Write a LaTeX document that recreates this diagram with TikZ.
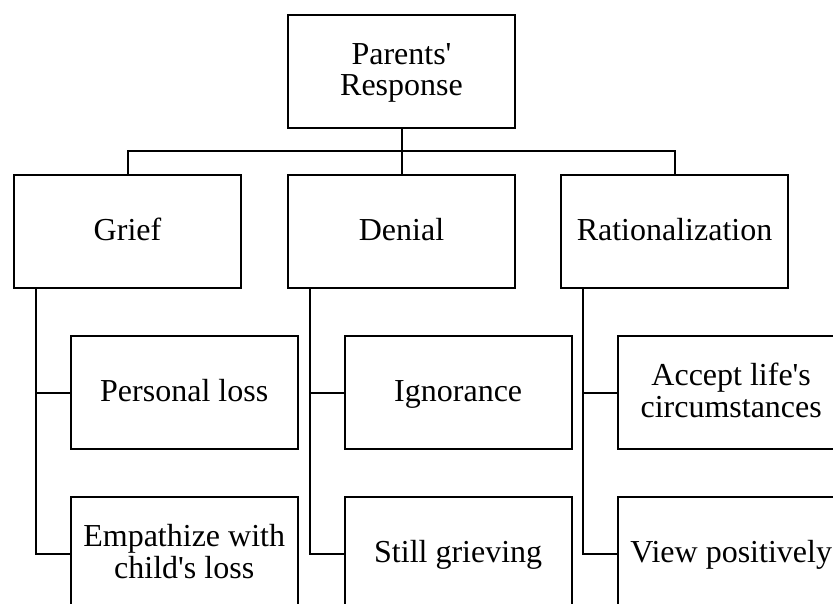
\documentclass[tikz,border=0pt]{standalone}
\usepackage{fontspec}
\setmainfont{Liberation Serif}
% strut giving every text line the same height and depth
\newcommand{\linestrut}{\rule[-6.25pt]{0pt}{30.5pt}}
\begin{document}
\begin{tikzpicture}[x=1pt,y=-1pt,
  box/.style={draw, line width=2pt, minimum width=227pt, minimum height=113pt,
    inner sep=0pt, align=center, font=\fontsize{32}{30.5}\selectfont},
  link/.style={line width=2pt}]
  \useasboundingbox (0,0) rectangle (833,603);
  \clip (0,0) rectangle (833,603);
  % top level
  \node[box] (root) at (401.5,71.5) {\linestrut Parents\textquotesingle\\\linestrut Response};
  % response categories
  \node[box] (grief) at (127.5,231.5) {\linestrut Grief};
  \node[box] (denial) at (401.5,231.5) {\linestrut Denial};
  \node[box] (rat) at (674.5,231.5) {\linestrut Rationalization};
  % details
  \node[box] (ploss) at (184.2,392.5) {\linestrut Personal loss};
  \node[box] (empath) at (184.2,553.5) {\linestrut Empathize with\\\linestrut child\textquotesingle s loss};
  \node[box] (ignor) at (458.2,392.5) {\linestrut Ignorance};
  \node[box] (still) at (458.2,553.5) {\linestrut Still grieving};
  \node[box] (accept) at (731.2,392.5) {\linestrut Accept life\textquotesingle s\\\linestrut circumstances};
  \node[box] (view) at (731.2,553.5) {\linestrut View positively};
  % tree connectors
  \draw[link] (root.south) -- (denial.north);
  \draw[link] (grief.north) -- ++(0,-23.5) -| (rat.north);
  \foreach \p/\a/\b in {grief/ploss/empath, denial/ignor/still, rat/accept/view}{
    \draw[link] ([xshift=23pt]\p.south west) |- (\a.west);
    \draw[link] ([xshift=23pt]\p.south west) |- (\b.west);
  }
\end{tikzpicture}
\end{document}
